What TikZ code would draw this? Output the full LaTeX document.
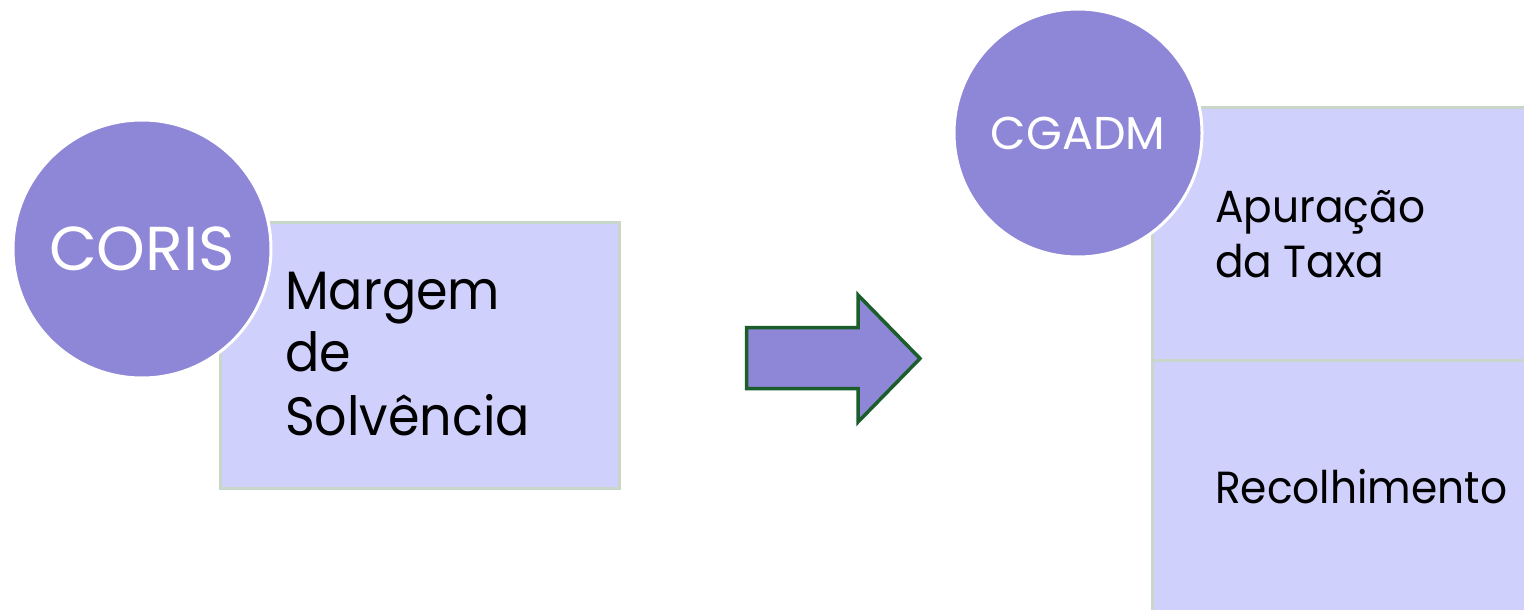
\documentclass[tikz,border=0pt]{standalone}
\usepackage{fontspec}
\setmainfont{Poppins}
\newfontfamily\panelfont[FakeStretch=0.94]{Poppins}
\begin{document}
\definecolor{discfill}{HTML}{8E86D6}
\definecolor{panelfill}{HTML}{D0D0FC}
\definecolor{panelline}{HTML}{C9D6CA}
\definecolor{arrowline}{HTML}{1B5E2B}
\begin{tikzpicture}[x=1pt,y=-1pt,
  panel/.style={draw=panelline,line width=3pt,fill=panelfill,rectangle,inner sep=0pt},
  disc/.style={circle,draw=white,line width=3pt,fill=discfill,inner sep=0pt,
    minimum size=#1,text=white},
  paneltext/.style={inner sep=0pt,anchor=base west,align=left,text=black},
  flowarrow/.style={draw=arrowline,line width=3.5pt,fill=discfill,line join=miter}]
\useasboundingbox (0,0) rectangle (1524,610);
\clip (0,0) rectangle (1524,610);

% left group
\node[panel,minimum width=399pt,minimum height=266pt] (solvbox) at (419.5,355) {};
\node[disc=258pt,font=\fontsize{62}{62}\selectfont] (coris) at (142,249) {CORIS};
\node[paneltext,font=\panelfont\fontsize{54}{63}\selectfont] (solv) at (285,309) {Margem};
\node[paneltext,font=\panelfont\fontsize{54}{63}\selectfont] (solvb) at (285,371) {de};
\node[paneltext,font=\panelfont\fontsize{54}{63}\selectfont] (solvc) at (285,435) {Solvência};

% transition arrow
\draw[flowarrow] (746.5,327.5) -- (858,327.5) -- (858,295) -- (920,358.5)
  -- (858,422) -- (858,388.5) -- (746.5,388.5) -- cycle;

% right group
\node[panel,minimum width=400pt,minimum height=254pt] (apbox) at (1352,234) {};
\node[panel,minimum width=400pt,minimum height=260pt] (recbox) at (1352,490) {};
\node[disc=248pt,font=\fontsize{46}{46}\selectfont] (cgadm) at (1078,133) {CGADM};
\node[paneltext,font=\panelfont\fontsize{45}{54}\selectfont] (ap) at (1215,222) {Apuração};
\node[paneltext,font=\panelfont\fontsize{45}{54}\selectfont] (apb) at (1215,277) {da Taxa};
\node[paneltext,font=\panelfont\fontsize{45}{54}\selectfont] (rec) at (1215,503) {Recolhimento};
\end{tikzpicture}
\end{document}
